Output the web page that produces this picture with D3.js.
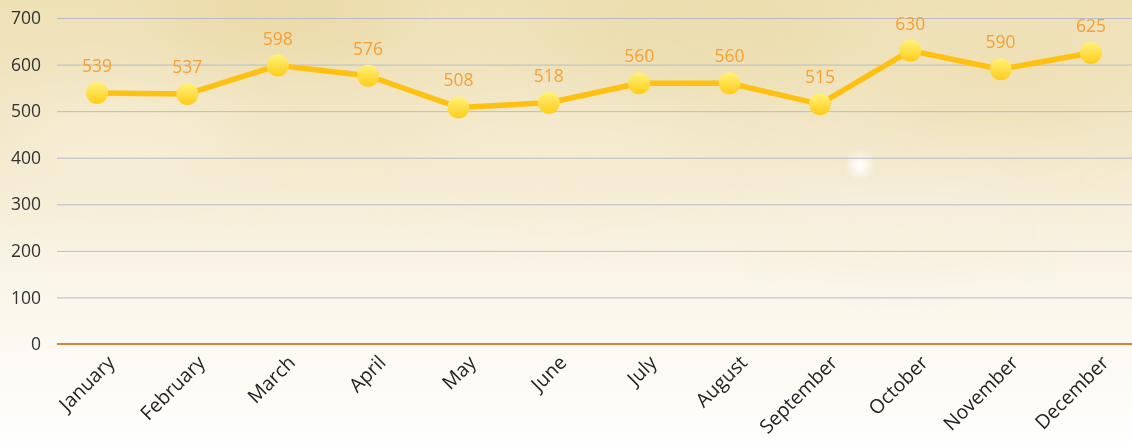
<!DOCTYPE html>
<html><head><meta charset="utf-8">
<script src="https://cdn.jsdelivr.net/npm/d3@7"></script>
<style>html,body{margin:0;padding:0;overflow:hidden;background:#fff}</style>
</head><body><svg id="c" width="1132" height="443"></svg>
<script>
const months = ["January","February","March","April","May","June","July","August","September","October","November","December"];
const values = [539,537,598,576,508,518,560,560,515,630,590,625];
const yTicks = [0,100,200,300,400,500,600,700];

const svg = d3.select("#c");
const W = 1132, H = 443;
const defs = svg.append("defs");
const bg = defs.append("linearGradient").attr("id","bg").attr("x1",0).attr("y1",0).attr("x2",0).attr("y2",1);
bg.append("stop").attr("offset","0%").attr("stop-color","#efe1b6");
bg.append("stop").attr("offset","30%").attr("stop-color","#f2e7c8");
bg.append("stop").attr("offset","65%").attr("stop-color","#faf6ea");
bg.append("stop").attr("offset","100%").attr("stop-color","#fefefd");
const blur = defs.append("filter").attr("id","blur").attr("x","-50%").attr("y","-50%").attr("width","200%").attr("height","200%");
blur.append("feGaussianBlur").attr("stdDeviation",30);
const mk = defs.append("linearGradient").attr("id","mk").attr("x1",0).attr("y1",0).attr("x2",0).attr("y2",1);
mk.append("stop").attr("offset","0%").attr("stop-color","#fff27a");
mk.append("stop").attr("offset","100%").attr("stop-color","#ffcc1a");
const glow = defs.append("radialGradient").attr("id","glow");
glow.append("stop").attr("offset","0%").attr("stop-color","#ffffff").attr("stop-opacity",1);
glow.append("stop").attr("offset","100%").attr("stop-color","#ffffff").attr("stop-opacity",0);

svg.append("rect").attr("width",W).attr("height",H).attr("fill","url(#bg)");
const clouds = svg.append("g").attr("filter","url(#blur)");
[[280,20,120,40,"#e8d59e",0.6],[700,40,160,50,"#ead9a6",0.5],[1000,80,130,40,"#eddcaa",0.5],[120,140,120,40,"#f8f1dc",0.7],[560,150,150,40,"#f6eed6",0.6],[900,230,140,40,"#f7f0dd",0.6]]
 .forEach(c=>clouds.append("ellipse").attr("cx",c[0]).attr("cy",c[1]).attr("rx",c[2]).attr("ry",c[3]).attr("fill",c[4]).attr("opacity",c[5]));
svg.append("circle").attr("cx",860).attr("cy",165).attr("r",16).attr("fill","url(#glow)");

const x = d3.scalePoint().domain(months).range([97,1091]);
const y = d3.scaleLinear().domain([0,700]).range([344,18]);
const left = 57, right = 1132;

const grid = svg.append("g");
grid.selectAll("line").data(yTicks.filter(d=>d>0)).join("line")
  .attr("x1",left).attr("x2",right).attr("y1",d=>y(d)+0.5).attr("y2",d=>y(d)+0.5)
  .attr("stroke","#b9bcc8").attr("stroke-width",1);
svg.append("line").attr("x1",left).attr("x2",right).attr("y1",y(0)).attr("y2",y(0))
  .attr("stroke","#d8813a").attr("stroke-width",2);

const font = "'Open Sans', 'Noto Sans', sans-serif";
svg.append("g").selectAll("text").data(yTicks).join("text")
  .attr("x",41).attr("y",d=>y(d)).attr("dy","0.35em").attr("text-anchor","end")
  .attr("font-family",font).attr("font-size",17.5).attr("fill","#333")
  .text(d=>d);

svg.append("g").selectAll("text").data(months).join("text")
  .attr("transform",d=>`translate(${x(d)+14},${y(0)+15}) rotate(-45)`)
  .attr("text-anchor","end").attr("dy","0.35em")
  .attr("font-family",font).attr("font-size",19.5).attr("fill","#222")
  .text(d=>d);

const line = d3.line().x((d,i)=>x(months[i])).y(d=>y(d));
svg.append("path").datum(values).attr("d",line).attr("fill","none")
  .attr("stroke","#ffc111").attr("stroke-width",5.5).attr("stroke-linejoin","round");

svg.append("g").selectAll("circle").data(values).join("circle")
  .attr("cx",(d,i)=>x(months[i])).attr("cy",d=>y(d)).attr("r",11)
  .attr("fill","url(#mk)");

svg.append("g").selectAll("text").data(values).join("text")
  .attr("x",(d,i)=>x(months[i])).attr("y",d=>y(d)-21)
  .attr("text-anchor","middle").attr("font-family",font).attr("font-size",17.5)
  .attr("fill","#f5a033").text(d=>d);
</script></body></html>
